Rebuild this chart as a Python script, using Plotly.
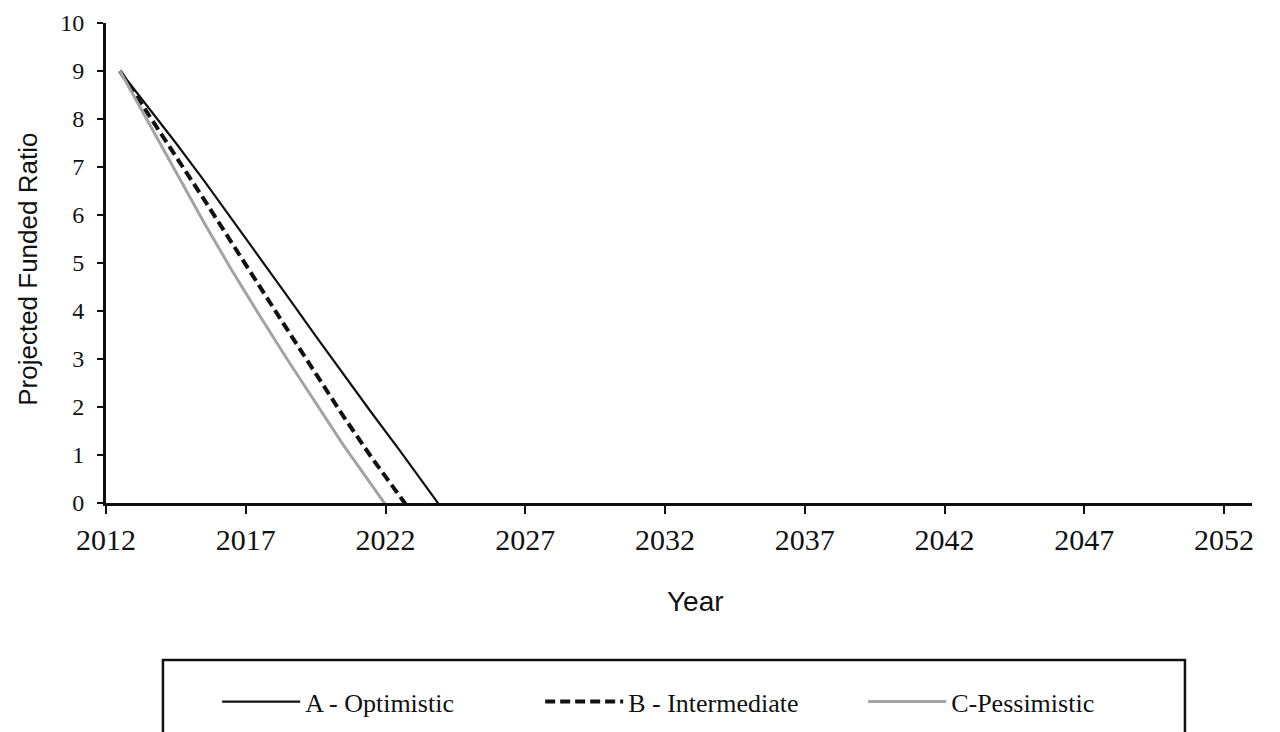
import plotly.graph_objects as go

years = list(range(2012, 2053))
tick_years = list(range(2012, 2053, 5))

optimistic = [9.0, 8.25, 7.5, 6.72, 5.92, 5.1, 4.3, 3.48, 2.67, 1.88, 1.1, 0.3, -0.5]
intermediate = [9.0, 8.12, 7.22, 6.33, 5.42, 4.5, 3.6, 2.7, 1.8, 0.95, 0.15, -0.65]
pessimistic = [9.0, 7.95, 6.9, 5.85, 4.85, 3.9, 2.98, 2.08, 1.2, 0.38, -0.45]

names = ["A - Optimistic", "B - Intermediate", "C-Pessimistic"]

fig = go.Figure()
fig.add_trace(go.Scatter(x=years[:len(optimistic)], y=optimistic, mode="lines", name=names[0],
                         line=dict(color="#111111", width=2.2)))
fig.add_trace(go.Scatter(x=years[:len(intermediate)], y=intermediate, mode="lines", name=names[1],
                         line=dict(color="#111111", width=4, dash="10px,5px")))
fig.add_trace(go.Scatter(x=years[:len(pessimistic)], y=pessimistic, mode="lines", name=names[2],
                         line=dict(color="#a3a3a3", width=3)))

serif = "Liberation Serif"
sans = "Liberation Sans Narrow, Liberation Sans"

fig.update_layout(
    width=1280, height=732,
    margin=dict(l=98, r=36, t=15, b=237, autoexpand=False),
    paper_bgcolor="white", plot_bgcolor="white",
    showlegend=True,
    legend=dict(orientation="h", x=0.097, xanchor="left", y=-0.414, yanchor="middle",
                font=dict(family=serif, size=26, color="#111"),
                itemwidth=78, entrywidth=230, bgcolor="rgba(0,0,0,0)"),
    xaxis=dict(range=[2011.5, 2052.5], tickvals=[y - 0.5 for y in tick_years],
               ticktext=[str(y) for y in tick_years], automargin=False,
               showgrid=False, zeroline=False, showline=True, linecolor="#111", linewidth=3,
               ticks="outside", ticklen=8, tickwidth=2, tickcolor="#111",
               tickfont=dict(family=serif, size=30, color="#111"), ticklabelstandoff=0,
               ticklabeloverflow="allow"),
    yaxis=dict(range=[0, 10], dtick=1, showgrid=False, zeroline=False, showline=True,
               automargin=False,
               linecolor="#111", linewidth=3, ticks="outside", ticklen=6, tickwidth=2,
               tickcolor="#111", tickfont=dict(family=serif, size=24, color="#111"),
               ticklabelstandoff=8, ticklabeloverflow="allow"),
    shapes=[dict(type="rect", xref="paper", yref="paper", x0=0.0497, x1=0.9415,
                 y0=-0.327, y1=-0.52, line=dict(color="#111", width=2.5))],
    annotations=[
        dict(text="Projected Funded Ratio", xref="paper", yref="paper", x=-0.068, y=0.486,
             textangle=-90, showarrow=False, xanchor="center", yanchor="middle",
             font=dict(family=sans, size=26, color="#111")),
        dict(text="Year", xref="paper", yref="paper", x=0.514, y=-0.206, showarrow=False,
             xanchor="center", yanchor="middle", font=dict(family=sans, size=28, color="#111")),
    ],
)

fig.write_html("out.html")
